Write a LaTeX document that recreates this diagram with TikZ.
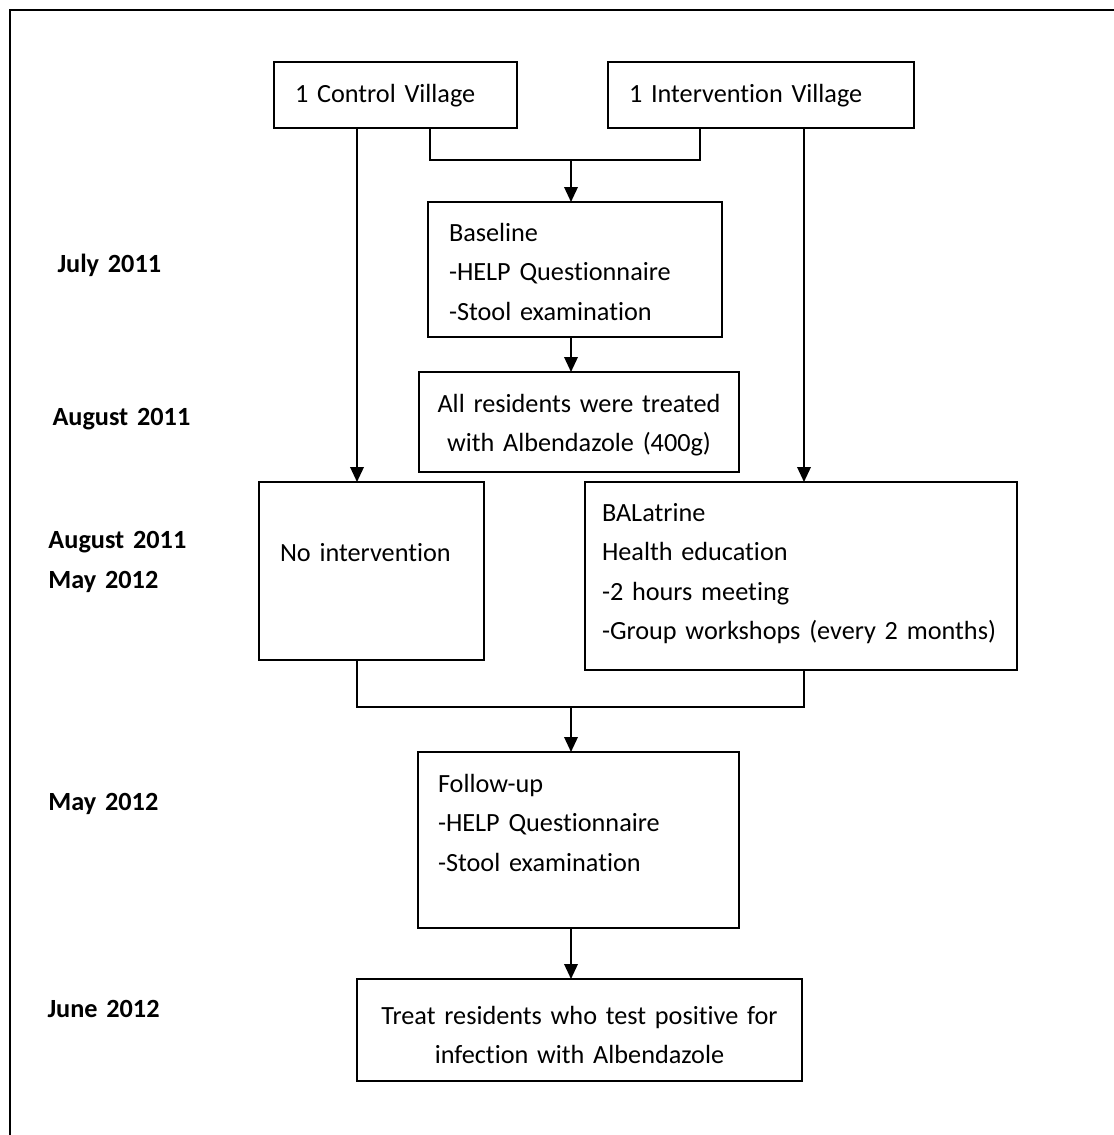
\documentclass[tikz,border=0pt]{standalone}
\usepackage{fontspec}
\setmainfont{Carlito}[Ligatures=CommonOff]
\usepackage{tikz}
\usetikzlibrary{arrows.meta}

\begin{document}
\begin{tikzpicture}[x=0.4pt, y=-0.4pt,
  box/.style={draw, line width=0.8pt, anchor=base west, inner ysep=0pt, inner xsep=8.4pt,
    outer sep=0pt, align=left, font=\fontsize{10.5pt}{15.8pt}\selectfont},
  date/.style={anchor=base west, inner sep=0pt, align=left, text width=60pt,
    font=\fontsize{10.5pt}{16pt}\selectfont\bfseries},
  arr/.style={line width=0.8pt, -{Triangle[length=6pt, width=5.4pt]}},
  link/.style={line width=0.6pt}]
  \useasboundingbox (0,0) rectangle (1114,1135);
  \draw[line width=0.7pt] (10,1135) -- (10,10) -- (1114,10);

  \node[box, text width=80.4pt, text height=16pt, text depth=10.4pt] (ctrl) at (274,102) {1 Control Village};
  \node[box, text width=105.6pt, text height=16pt, text depth=10.4pt] (interv) at (608,102) {1 Intervention Village};
  \node[box, text width=100.8pt, text height=15.6pt, text depth=38.4pt] (baseline) at (428,241)
    {Baseline\\-HELP Questionnaire\\-Stool examination};
  \node[box, align=center, inner xsep=4pt, text width=120pt, text height=16pt, text depth=24pt] (treated) at (419,412)
    {All residents were treated\\with Albendazole (400g)};
  \node[box, text width=73.2pt, text height=31.6pt, text depth=39.6pt] (nointer) at (259,561) {No intervention};
  \node[box, inner xsep=6.8pt, text width=159.2pt, text height=15.6pt, text depth=59.6pt] (balat) at (585,521)
    {BALatrine\\Health education\\-2 hours meeting\\-Group workshops (every 2 months)};
  \node[box, inner xsep=8pt, text width=112.4pt, text height=16pt, text depth=54.4pt] (follow) at (418,792)
    {Follow-up\\-HELP Questionnaire\\-Stool examination};
  \node[box, align=center, inner xsep=4pt, text width=170pt, text height=18pt, text depth=22.8pt] (treat) at (357,1024)
    {Treat residents who test positive for\\infection with Albendazole};

  \node[date] (jul11) at (57,272) {July 2011};
  \node[date] (aug11) at (52,425) {August 2011};
  \node[date] (augmay) at (48,548) {August 2011\\May 2012};
  \node[date] (may12) at (48,810) {May 2012};
  \node[date] (jun12) at (47,1017) {June 2012};

  \coordinate (cx) at (357,0);
  \coordinate (ix) at (804,0);
  \coordinate (mx) at (571,0);
  \coordinate (tl) at (430,0);
  \coordinate (tr) at (700,0);
  \coordinate (jt) at (0,160);
  \coordinate (jb) at (0,707);

  \draw[arr] (cx |- ctrl.south) -- (cx |- nointer.north);
  \draw[arr] (ix |- interv.south) -- (ix |- balat.north);
  \draw[link] (tl |- ctrl.south) -- (tl |- jt) -- (tr |- jt) -- (tr |- interv.south);
  \draw[arr] (mx |- jt) -- (mx |- baseline.north);
  \draw[arr] (mx |- baseline.south) -- (mx |- treated.north);
  \draw[link] (cx |- nointer.south) -- (cx |- jb) -- (ix |- jb) -- (ix |- balat.south);
  \draw[arr] (mx |- jb) -- (mx |- follow.north);
  \draw[arr] (mx |- follow.south) -- (mx |- treat.north);
\end{tikzpicture}
\end{document}
